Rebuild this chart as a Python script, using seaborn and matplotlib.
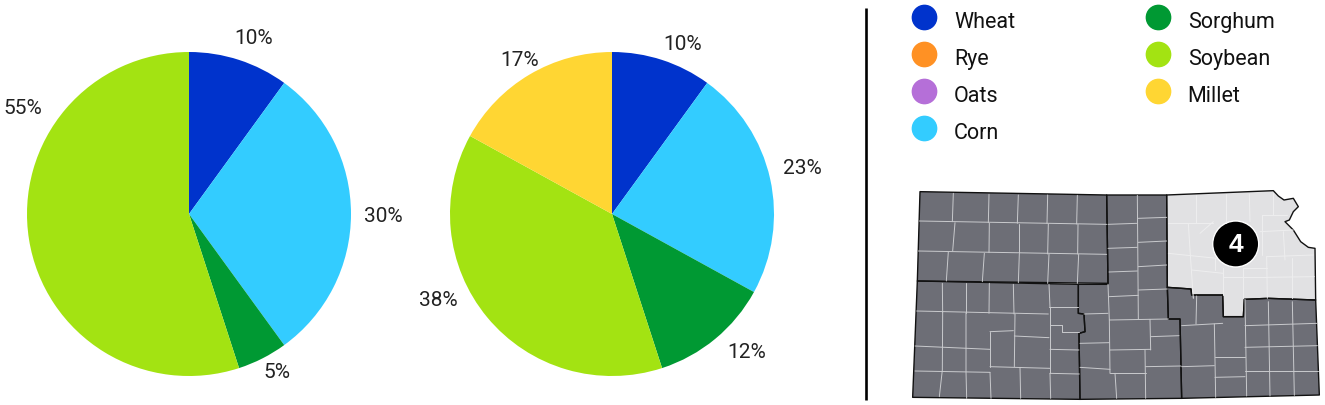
import matplotlib
matplotlib.use("Agg")
import matplotlib.pyplot as plt
from matplotlib.lines import Line2D
from matplotlib.patches import Circle, Polygon
import seaborn as sns

sns.set_theme(style="white")
plt.rcParams["font.family"] = ["Roboto", "Liberation Sans", "DejaVu Sans"]

crops = ["Wheat", "Rye", "Oats", "Corn", "Sorghum", "Soybean", "Millet"]
crop_colors = ["#0033CC", "#FF9124", "#B56FD8", "#33CCFF", "#009933", "#A3E312", "#FFD633"]

left_crops = ["Wheat", "Corn", "Sorghum", "Soybean"]
left_values = [10, 30, 5, 55]
right_crops = ["Wheat", "Corn", "Sorghum", "Soybean", "Millet"]
right_values = [10, 23, 12, 38, 17]

# label spots in figure pixels
left_label_xy = [(254, 39), (383, 217), (277, 373), (23, 108)]
right_label_xy = [(683, 45), (802, 169), (747, 352), (438, 301), (520, 61)]

# map shapes, traced in the 3x crop of the map
nw_region = [(120, 65), (680, 75), (684, 340), (112, 333)]
nc_region = [(680, 75), (860, 75), (862, 352), (865, 447), (900, 447), (905, 685), (600, 688),
             (597, 490), (615, 485), (612, 432), (595, 430), (595, 343), (684, 343)]
sw_region = [(112, 333), (595, 343), (595, 430), (612, 432), (615, 485), (597, 490), (600, 688), (98, 682)]
ne_region = [(860, 75), (1180, 62), (1195, 78), (1212, 90), (1240, 85), (1255, 110), (1240, 125),
             (1228, 150), (1215, 155), (1240, 180), (1262, 215), (1285, 232), (1305, 235),
             (1307, 390), (1165, 385), (1093, 388), (1090, 440), (1030, 440), (1028, 375),
             (935, 375), (933, 357), (862, 352)]
se_region = [(862, 352), (933, 357), (935, 375), (1028, 375), (1030, 440), (1090, 440), (1093, 388),
             (1165, 385), (1307, 390), (1318, 675), (905, 685), (900, 447), (865, 447)]

dark_county_lines = [
    [(118, 153), (680, 163)], [(115, 243), (680, 253)],
    [(220, 70), (217, 155)], [(327, 73), (325, 158)], [(415, 75), (412, 160)], [(503, 75), (501, 160)], [(592, 76), (590, 162)],
    [(225, 158), (218, 243)], [(328, 160), (327, 248)], [(416, 162), (416, 250)], [(505, 162), (503, 252)], [(594, 163), (593, 252)],
    [(205, 245), (199, 333)], [(313, 250), (307, 335)], [(418, 252), (415, 338)], [(507, 252), (503, 340)], [(596, 253), (592, 340)],
    [(772, 76), (775, 447)], [(684, 163), (770, 160)], [(775, 145), (860, 142)], [(684, 235), (772, 232)], [(775, 217), (860, 213)],
    [(687, 306), (772, 303)], [(775, 290), (860, 285)], [(687, 380), (775, 376)], [(775, 360), (862, 357)],
    [(612, 432), (684, 430)], [(684, 343), (688, 450), (690, 610)], [(688, 450), (865, 447)], [(810, 448), (812, 540)],
    [(812, 500), (897, 497)], [(690, 540), (812, 538)], [(795, 540), (797, 685)], [(690, 610), (797, 610)],
    [(797, 590), (903, 588)], [(705, 610), (710, 685)], [(600, 520), (688, 518)], [(600, 592), (690, 598)],
    [(187, 340), (188, 428)], [(258, 340), (258, 428)], [(328, 340), (327, 430)], [(400, 343), (402, 432)], [(507, 343), (510, 412)],
    [(110, 423), (505, 432)], [(507, 412), (595, 412)], [(510, 412), (510, 610)], [(510, 465), (545, 465), (545, 485), (597, 485)],
    [(510, 538), (597, 540)], [(510, 610), (598, 612)], [(405, 432), (403, 590)], [(403, 498), (507, 503)],
    [(188, 428), (187, 600), (178, 680)], [(258, 428), (258, 605), (260, 685)], [(105, 528), (330, 538)], [(105, 603), (330, 607)],
    [(330, 485), (330, 590)], [(330, 485), (400, 482)], [(330, 590), (510, 595)], [(420, 592), (422, 685)],
    [(330, 607), (333, 685)], [(510, 610), (512, 685)],
    [(950, 378), (948, 462)], [(905, 467), (1028, 460)], [(1003, 462), (1007, 682)], [(1005, 560), (1095, 560)], [(1005, 622), (1095, 620)],
    [(905, 590), (1003, 587)], [(1095, 388), (1100, 678)], [(1165, 395), (1170, 678)], [(1237, 395), (1243, 676)],
    [(1095, 467), (1310, 460)], [(1095, 532), (1312, 527)], [(1095, 603), (1315, 603)],
]
light_county_lines = [
    [(948, 75), (948, 160)], [(1037, 72), (1037, 160)], [(1108, 72), (1110, 155)], [(1180, 70), (1180, 135)],
    [(865, 160), (1000, 160)], [(925, 160), (930, 240)], [(865, 250), (1010, 265)], [(960, 190), (1000, 155)],
    [(1145, 135), (1220, 135)], [(1145, 135), (1145, 255)], [(1140, 185), (1240, 180)], [(1210, 185), (1215, 270)],
    [(1160, 260), (1300, 255)], [(1160, 260), (1162, 385)], [(1235, 265), (1235, 385)], [(1162, 322), (1303, 320)],
    [(930, 240), (940, 385)], [(935, 300), (1030, 310)], [(1005, 265), (1005, 300)], [(1030, 322), (1160, 322)],
    [(1090, 295), (1090, 385)], [(1030, 295), (1030, 375)], [(1090, 295), (1160, 295)],
]


def map_xy(points):
    return [(880 + x / 3, 170 + y / 3) for x, y in points]


def draw_pie(rect, values, names):
    x, y, d = rect
    ax = fig.add_axes([x / 1325, 1 - (y + d) / 405, d / 1325, d / 405])
    ax.pie(values, colors=[crop_colors[crops.index(n)] for n in names], startangle=90, counterclock=False, radius=1,
           wedgeprops={"linewidth": 0, "edgecolor": "none"})
    ax.set_xlim(-1, 1)
    ax.set_ylim(-1, 1)


fig = plt.figure(figsize=(13.25, 4.05), dpi=100, facecolor="white")

draw_pie((27, 52, 324), left_values, left_crops)
draw_pie((450, 52, 324), right_values, right_crops)

# pixel overlay for labels, divider and the map
over = fig.add_axes([0, 0, 1, 1], zorder=5)
over.set_xlim(0, 1325)
over.set_ylim(405, 0)
over.axis("off")

for value, (x, y) in zip(left_values + right_values, left_label_xy + right_label_xy):
    over.text(x, y, f"{value}%", ha="center", va="center", fontsize=15, color="#222222")

over.plot([866, 866], [8, 400], color="black", lw=1.9, solid_capstyle="butt")

handles = [Line2D([], [], linestyle="none", marker="o", markersize=17.5, markerfacecolor=c, markeredgecolor=c, label=n)
           for n, c in zip(crops, crop_colors)]
leg = over.legend(handles=handles, ncol=2, frameon=False, loc="upper left", bbox_to_anchor=(904 / 1325, 1 - 9 / 405),
                  bbox_transform=fig.transFigure, fontsize=15.5, labelspacing=0.74, handletextpad=0.48,
                  columnspacing=5.7, handlelength=1.84, labelcolor="#111111", borderaxespad=0, borderpad=0)
# text sits a little below the dots in the original
for t in leg.get_texts():
    t.set_position((0, -3))

for shape, fill in [(nw_region, "#6D6E76"), (nc_region, "#6D6E76"), (sw_region, "#6D6E76"),
                    (se_region, "#6D6E76"), (ne_region, "#E1E1E3")]:
    over.add_patch(Polygon(map_xy(shape), closed=True, facecolor=fill, edgecolor="none"))
for line in dark_county_lines:
    over.plot(*zip(*map_xy(line)), color="#C9CACD", lw=0.7)
for line in light_county_lines:
    over.plot(*zip(*map_xy(line)), color="#EEEEEF", lw=0.7)
for shape in [nw_region, nc_region, sw_region, se_region, ne_region]:
    over.add_patch(Polygon(map_xy(shape), closed=True, facecolor="none", edgecolor="#111111", lw=1.0, joinstyle="round"))

over.add_patch(Circle((1235.7, 244), 23, facecolor="black", edgecolor="white", lw=1))
over.text(1235.7, 244.5, "4", ha="center", va="center", color="white", fontsize=19, fontweight="bold",
          family=["Liberation Sans", "DejaVu Sans"])

fig.savefig("out.png", dpi=100)
plt.close(fig)
